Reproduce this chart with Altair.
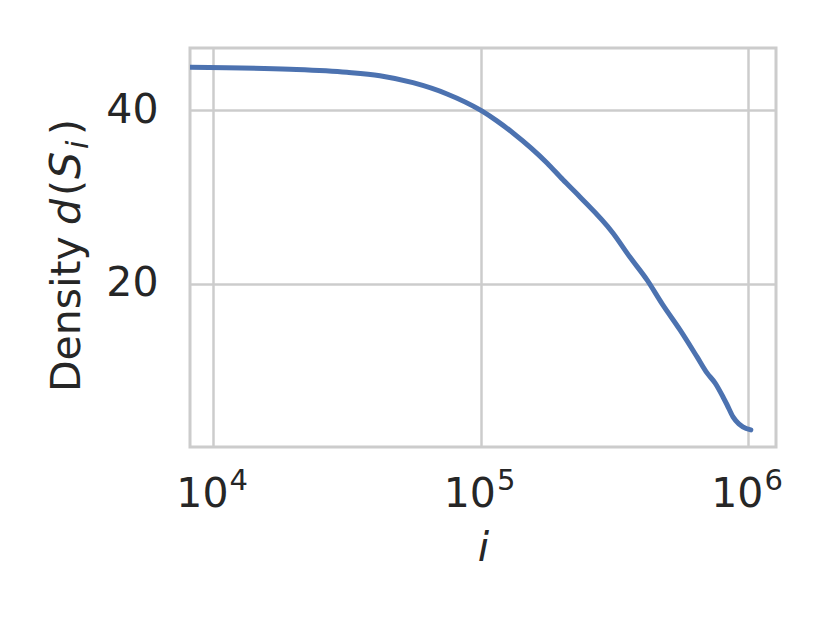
import altair as alt
import pandas as pd

# ---- data ----
sizes = [8200, 19300, 31550, 41900, 55700, 74700, 100000, 114700, 131800, 176600,
         202600, 234600, 311400, 360500, 417700, 478600, 554900, 642700, 700000,
         750000, 803600, 831000, 875800, 921000, 953000, 1021000]
density = [44.98, 44.75, 44.40, 44.0, 43.20, 41.90, 40.0, 38.8, 37.41, 33.95,
           32.0, 30.03, 25.88, 23.1, 20.46, 17.58, 14.70, 11.59, 9.74,
           8.59, 6.97, 6.1, 4.67, 3.86, 3.52, 3.17]
x_tick_values = [10000, 100000, 1000000]
x_tick_exponents = ["4", "5", "6"]
y_tick_values = [20, 40]

df = pd.DataFrame({"i": sizes, "d": density})
ticks_df = pd.DataFrame({"t": x_tick_values, "e": x_tick_exponents})
one = pd.DataFrame({"k": [0]})

FONT = "DejaVu Sans"
TXT = "#262626"
GRID = "#cccccc"
FS = 41

x_scale = alt.Scale(type="log", domain=[8170, 1268000], nice=False)
y_scale = alt.Scale(domain=[1.2, 47.2], nice=False, zero=False)

x_axis = alt.Axis(values=x_tick_values, labels=False, ticks=False, domain=False,
                  grid=True, gridColor=GRID, gridWidth=2.5,
                  title="i", titleFont=FONT, titleFontSize=FS, titleFontStyle="italic",
                  titleFontWeight="normal", titleColor=TXT, titleBaseline="alphabetic",
                  titleAlign="center", titleX=293, titleY=113)
y_axis = alt.Axis(values=y_tick_values, ticks=False, domain=False, grid=True,
                  gridColor=GRID, gridWidth=2.5, labelFont=FONT, labelFontSize=FS,
                  labelColor=TXT, labelPadding=32, title=None)

line = alt.Chart(df).mark_line(
    color="#4c72b0", strokeWidth=5, clip=True, interpolate="monotone",
    strokeCap="round", strokeJoin="round"
).encode(
    x=alt.X("i:Q", scale=x_scale, axis=x_axis),
    y=alt.Y("d:Q", scale=y_scale, axis=y_axis),
)

base10 = alt.Chart(ticks_df).mark_text(
    text="10", font=FONT, fontSize=FS, color=TXT, align="right",
    baseline="alphabetic", dx=15
).encode(x=alt.X("t:Q", scale=x_scale, axis=x_axis), y=alt.value(459))

exps = alt.Chart(ticks_df).mark_text(
    font=FONT, fontSize=29, color=TXT, align="left", baseline="alphabetic", dx=16
).encode(x=alt.X("t:Q", scale=x_scale, axis=x_axis), y=alt.value(442), text="e:N")


def seg(txt, ypos, size=FS, style="normal", shift=0):
    return alt.Chart(one).mark_text(
        text=txt, font=FONT, fontSize=size, fontStyle=style, color=TXT,
        angle=270, align="left", baseline="alphabetic"
    ).encode(x=alt.value(-110 + shift), y=alt.value(ypos))


ytitle = [
    seg("Density", 344),
    seg("d", 177, style="italic"),
    seg("(", 148),
    seg("S", 131, size=43, style="italic"),
    seg("i", 101, size=30, style="italic", shift=8),
    seg(")", 87),
]

chart = alt.layer(line, base10, exps, *ytitle).properties(
    width=586, height=399,
    padding={"left": 182, "top": 40, "right": 46, "bottom": 168},
    autosize="none", background="white",
).configure_view(stroke=GRID, strokeWidth=3)

chart.save("out.html", embed_options={"renderer": "svg", "actions": False})
